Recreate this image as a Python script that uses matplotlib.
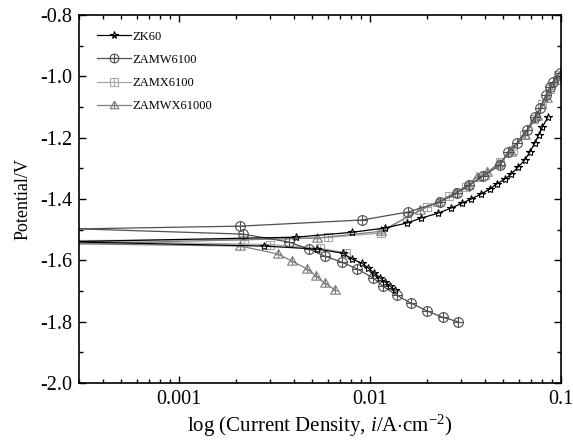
import matplotlib
matplotlib.use("Agg")
import matplotlib.pyplot as plt
from matplotlib.path import Path
from matplotlib.ticker import MultipleLocator, FixedLocator, FixedFormatter, LogLocator, NullFormatter

plt.rcParams["font.family"] = ["Liberation Serif", "DejaVu Serif"]
plt.rcParams["mathtext.fontset"] = "custom"
plt.rcParams["mathtext.rm"] = "Liberation Serif"
plt.rcParams["mathtext.it"] = "Liberation Serif:italic"
plt.rcParams["axes.unicode_minus"] = False

# ZK60
zk60_cat_i = [0.0003, 0.0028, 0.0053, 0.0072, 0.0081, 0.0091, 0.0098, 0.0105, 0.0113, 0.0120, 0.0127, 0.0135]
zk60_cat_e = [-1.540, -1.553, -1.563, -1.576, -1.596, -1.609, -1.625, -1.641, -1.657, -1.670, -1.683, -1.696]
zk60_an_i = [0.0003, 0.0041, 0.0081, 0.0120, 0.0156, 0.0185, 0.0227, 0.0266, 0.0304, 0.0338, 0.038,
             0.0425, 0.046, 0.0508, 0.055, 0.0595, 0.0646, 0.0686, 0.073, 0.0764, 0.080, 0.0853]
zk60_an_e = [-1.538, -1.524, -1.508, -1.494, -1.478, -1.462, -1.446, -1.429, -1.413, -1.400, -1.384,
             -1.367, -1.351, -1.335, -1.318, -1.296, -1.273, -1.247, -1.217, -1.191, -1.165, -1.133]

# ZAMW6100
zamw_cat_i = [0.0003, 0.00216, 0.00377, 0.0048, 0.0058, 0.0071, 0.0086, 0.0104, 0.0117, 0.0138,
              0.0165, 0.020, 0.024, 0.029]
zamw_cat_e = [-1.497, -1.514, -1.540, -1.563, -1.586, -1.605, -1.628, -1.657, -1.684, -1.713,
              -1.740, -1.765, -1.785, -1.800]
zamw_an_i = [0.0003, 0.0021, 0.0091, 0.0158, 0.0232, 0.0285, 0.033, 0.039, 0.048, 0.0527, 0.0588,
             0.0663, 0.0730, 0.0776, 0.0834, 0.0874, 0.0906, 0.0985]
zamw_an_e = [-1.497, -1.488, -1.468, -1.442, -1.410, -1.380, -1.355, -1.325, -1.289, -1.246, -1.217,
             -1.175, -1.133, -1.104, -1.061, -1.035, -1.018, -0.988]

# ZAMX6100
zamx_cat_i = [0.0003, 0.003, 0.0055, 0.0075]
zamx_cat_e = [-1.537, -1.548, -1.560, -1.575]
zamx_an_i = [0.0003, 0.0022, 0.0060, 0.0114, 0.0156, 0.0200, 0.026, 0.032, 0.040, 0.048, 0.056,
             0.064, 0.072, 0.080, 0.088, 0.096]
zamx_an_e = [-1.535, -1.532, -1.525, -1.511, -1.458, -1.425, -1.390, -1.360, -1.320, -1.280, -1.240,
             -1.190, -1.140, -1.090, -1.040, -0.995]

# ZAMWX61000
zamwx_cat_i = [0.0003, 0.0021, 0.0033, 0.0039, 0.0047, 0.0052, 0.0058, 0.0066]
zamwx_cat_e = [-1.546, -1.553, -1.579, -1.602, -1.628, -1.650, -1.674, -1.697]
zamwx_an_i = [0.0003, 0.0053, 0.0114, 0.0183, 0.0227, 0.0278, 0.0325, 0.0363, 0.041, 0.047, 0.055,
              0.065, 0.075, 0.085, 0.095]
zamwx_an_e = [-1.545, -1.527, -1.505, -1.436, -1.410, -1.380, -1.354, -1.328, -1.312, -1.285, -1.245,
              -1.190, -1.130, -1.070, -1.010]

x_ticks = [0.001, 0.01, 0.1]
x_ticklabels = ["0.001", "0.01", "0.1"]

# marker shapes with a cross inside
M, L = Path.MOVETO, Path.LINETO
plus = Path([(-1, 0), (1, 0), (0, -1), (0, 1)], [M, L, M, L])
oplus = Path.make_compound_path(Path.unit_circle(), plus)
sq = Path([(-1, -1), (1, -1), (1, 1), (-1, 1), (-1, -1)], [M, L, L, L, L])
splus = Path.make_compound_path(sq, plus)
tri = Path([(0, 1), (-1, -0.75), (1, -0.75), (0, 1)], [M, L, L, L])
tplus = Path.make_compound_path(tri, Path([(0, 1), (0, -0.75), (-0.6, -0.05), (0.6, -0.05)], [M, L, M, L]))

series = [
    ("ZAMX6100", zamx_cat_i, zamx_cat_e, zamx_an_i, zamx_an_e, "#a8a8a8", splus, 6),
    ("ZAMWX61000", zamwx_cat_i, zamwx_cat_e, zamwx_an_i, zamwx_an_e, "#808080", tplus, 7),
    ("ZAMW6100", zamw_cat_i, zamw_cat_e, zamw_an_i, zamw_an_e, "#505050", oplus, 7),
    ("ZK60", zk60_cat_i, zk60_cat_e, zk60_an_i, zk60_an_e, "black", "*", 6),
]

fig = plt.figure(figsize=(5.73, 4.45), dpi=100)
ax = fig.add_axes([0.138, 0.139, 0.841, 0.827])

handles = {}
for name, ci, ce, ai, ae, col, mk, ms in series:
    for xs, ys in [(ci, ce), (ai, ae)]:
        h, = ax.plot(xs, ys, color=col, lw=0.9, marker=mk, ms=ms, markevery=slice(1, None),
                     mfc="none", mec=col, mew=0.8, label=name)
    handles[name] = h

ax.set_xscale("log")
ax.set_xlim(0.0003, 0.1)
ax.set_ylim(-2.0, -0.8)
ax.xaxis.set_major_locator(FixedLocator(x_ticks))
ax.xaxis.set_major_formatter(FixedFormatter(x_ticklabels))
ax.xaxis.set_minor_locator(LogLocator(base=10, subs=range(2, 10)))
ax.xaxis.set_minor_formatter(NullFormatter())
ax.yaxis.set_major_locator(MultipleLocator(0.2))
ax.yaxis.set_minor_locator(MultipleLocator(0.1))
ax.yaxis.set_major_formatter(plt.FuncFormatter(lambda v, p: "%.1f" % v))
ax.tick_params(which="both", direction="in", top=True, right=True, labelsize=14.5, width=1)
ax.tick_params(which="major", length=5, pad=5)
ax.tick_params(which="minor", length=3)
for s in ax.spines.values():
    s.set_linewidth(1.2)

ax.set_xlabel(r"log (Current Density, $i$/A$\cdot$cm$^{-2}$)", fontsize=15, labelpad=3)
ax.set_ylabel("Potential/V", fontsize=13, labelpad=6)

order = ["ZK60", "ZAMW6100", "ZAMX6100", "ZAMWX61000"]
ax.legend([handles[n] for n in order], order, loc="upper left", bbox_to_anchor=(0.037, 0.958),
          frameon=False, fontsize=9, handlelength=2.7, numpoints=1, labelspacing=0.9,
          handletextpad=0.15, markerscale=0.9, borderpad=0, borderaxespad=0)

fig.savefig("out.png", dpi=100)
